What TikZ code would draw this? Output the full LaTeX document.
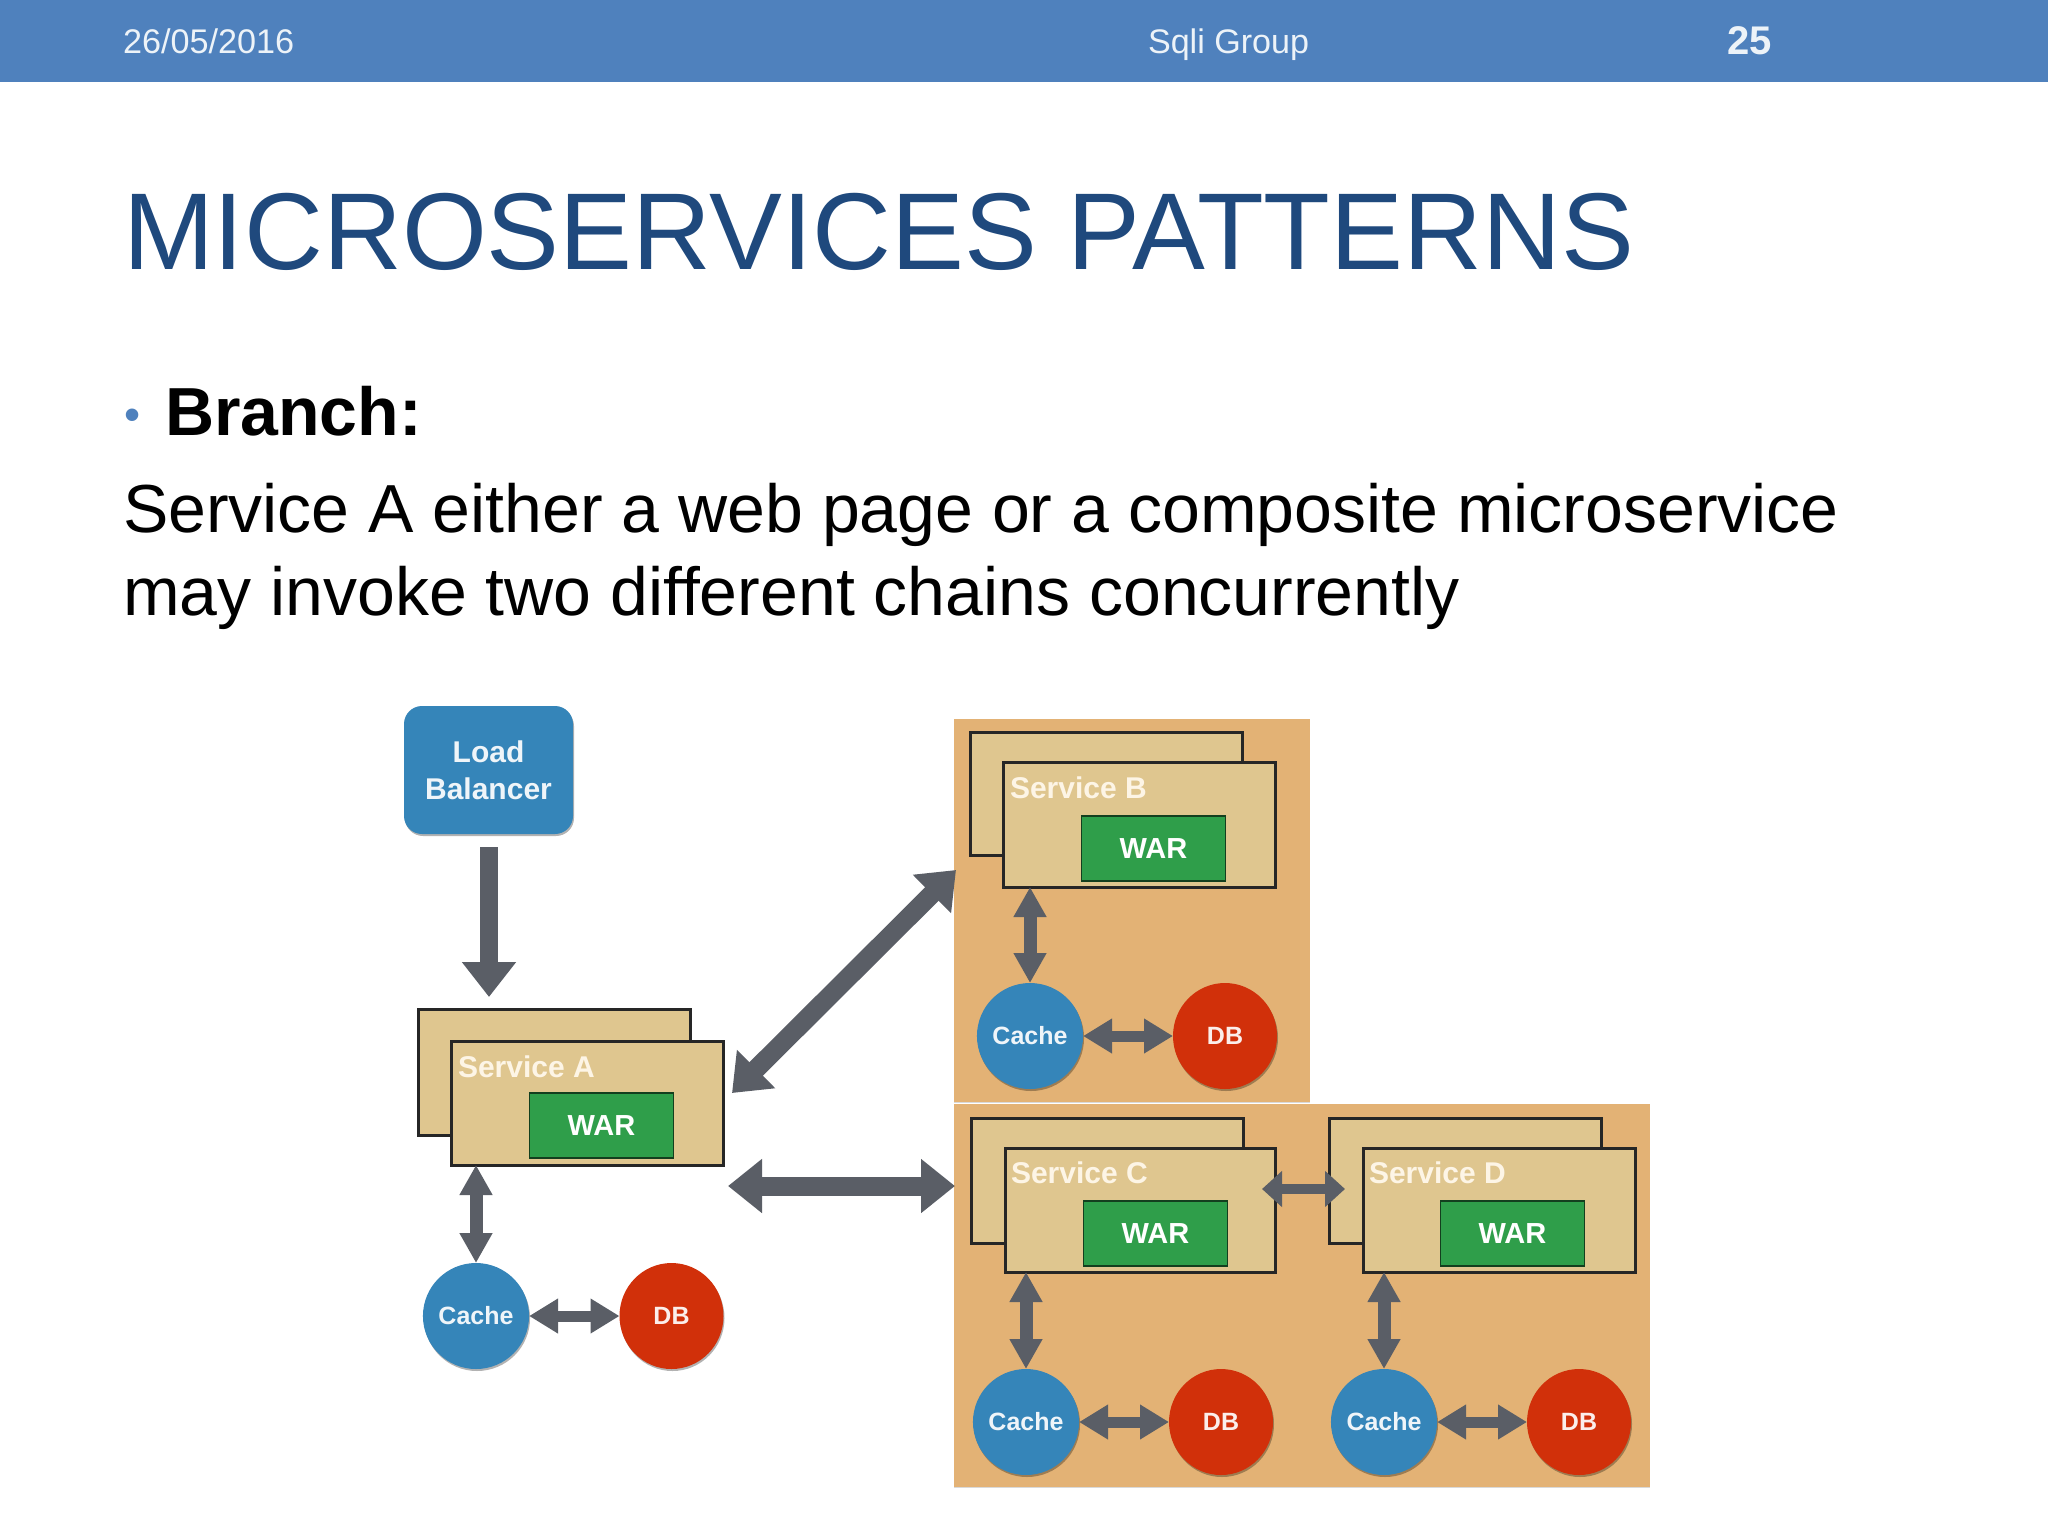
\documentclass[tikz,border=0pt]{standalone}
\usepackage{fontspec}
\setmainfont{Liberation Sans}
\usetikzlibrary{arrows.meta,shapes.geometric,shadows}
\definecolor{hdr}{HTML}{4F81BD}
\definecolor{ttl}{HTML}{1F497D}
\definecolor{panel}{HTML}{E3B275}
\definecolor{tan}{HTML}{DFC68F}
\definecolor{warg}{HTML}{2F9E4A}
\definecolor{blu}{HTML}{3585B9}
\definecolor{rd}{HTML}{D1300A}
\definecolor{gry}{HTML}{5A5E66}
\definecolor{lbl}{HTML}{FDF5E6}
\newcommand{\fs}[1]{\fontsize{#1}{#1}\selectfont}
\tikzset{
  x=0.5pt,y=-0.5pt,
  soft/.style={drop shadow={shadow xshift=0.5pt,shadow yshift=-1pt,opacity=.3,fill=black}},
  txt/.style={inner sep=0pt,outer sep=0pt,anchor=base west},
  panelbox/.style={rectangle,fill=panel,inner sep=0pt,outer sep=0pt,drop shadow={shadow xshift=0pt,shadow yshift=-0.7pt,opacity=.15,fill=black}},
  svcbox/.style={rectangle,fill=tan,draw=black!85,line width=1.5pt,inner sep=0pt,outer sep=0pt,soft},
  war/.style={rectangle,fill=warg,draw=black!60!warg,line width=0.7pt,inner sep=0pt,outer sep=0pt,text=white,font=\bfseries\fs{14.5},minimum width=72pt,minimum height=32.5pt},
  svclabel/.style={inner sep=0pt,outer sep=0pt,anchor=west,text=lbl,font=\bfseries\fs{15}},
  cachen/.style={ellipse,fill=blu,inner sep=0pt,outer sep=0pt,minimum width=52pt,minimum height=53pt,text=white!92!blu,font=\bfseries\fs{12.5},soft},
  dbn/.style={ellipse,fill=rd,inner sep=0pt,outer sep=0pt,minimum width=52pt,minimum height=53pt,text=white!92!rd,font=\bfseries\fs{12.5},soft},
  lbn/.style={rectangle,rounded corners=9pt,fill=blu,inner sep=0pt,outer sep=0pt,minimum width=84.5pt,minimum height=64pt,text=white!92!blu,font=\bfseries\fs{15},align=center,soft},
  big/.style={draw=gry,line width=9.5pt,{Triangle[length=17pt,width=26pt]}-{Triangle[length=17pt,width=26pt]}},
  down/.style={draw=gry,line width=9pt,-{Triangle[length=17.5pt,width=26pt]}},
  vert/.style={draw=gry,line width=6.5pt,{Triangle[length=15pt,width=15.5pt]}-{Triangle[length=15pt,width=15.5pt]}},
  horz/.style={draw=gry,line width=5.5pt,{Triangle[length=14.5pt,width=16.5pt]}-{Triangle[length=14.5pt,width=16.5pt]}},
  link/.style={draw=gry,line width=5pt,{Triangle[length=10pt,width=17.5pt]}-{Triangle[length=10pt,width=17.5pt]}},
}
\begin{document}
\begin{tikzpicture}
\useasboundingbox (0,0) rectangle (2048,1536);
\fill[white] (0,0) rectangle (2048,1536);
\node[rectangle,fill=hdr,inner sep=0pt,outer sep=0pt,minimum width=1024pt,minimum height=41pt] (bar) at (1024,41) {};
\node[txt,text=white!90!hdr,font=\fs{17.1}] (date) at (123,54) {26/05/2016};
\node[txt,text=white!90!hdr,font=\fs{17.05}] (grp) at (1148,54) {Sqli Group};
\node[txt,text=white!90!hdr,font=\bfseries\fs{20}] (num) at (1727,55) {25};
\node[txt,text=ttl,font=\fs{54.6}] (title) at (123,269) {MICROSERVICES PATTERNS};
\node[txt,text=hdr,font=\fs{23}] (bul) at (124,430) {•};
\node[txt,font=\bfseries\fs{34}] (branch) at (165,435) {Branch:};
\node[txt,font=\fs{34}] (l1) at (123,532) {Service A either a web page or a composite microservice};
\node[txt,font=\fs{34}] (l2) at (123,615) {may invoke two different chains concurrently};
% panels
\node[panelbox,minimum width=178pt,minimum height=191.5pt] (panelB) at (1132,910.5) {};
\node[panelbox,minimum width=348pt,minimum height=191.5pt] (panelCD) at (1302,1295.5) {};
% load balancer
\node[lbn] (lb) at (488.5,770) {Load\\[3.5pt]Balancer};
% service A
\node[svcbox,minimum width=136pt,minimum height=63pt] (backA) at (554,1072) {};
\node[svcbox,minimum width=136pt,minimum height=62pt] (frontA) at (587,1103) {};
\node[svclabel] (labA) at (458,1067) {Service A};
\node[war] (warA) at (601.5,1125.5) {WAR};
\node[cachen] (cacheA) at (476,1316) {Cache};
\node[dbn] (dbA) at (671.5,1316) {DB};
% service B
\node[svcbox,minimum width=136pt,minimum height=61.5pt] (backB) at (1106,793.5) {};
\node[svcbox,minimum width=136pt,minimum height=62.5pt] (frontB) at (1139,824.5) {};
\node[svclabel] (labB) at (1010,788) {Service B};
\node[war] (warB) at (1153.5,848.5) {WAR};
\node[cachen] (cacheB) at (1030,1036) {Cache};
\node[dbn] (dbB) at (1225,1036) {DB};
% service C
\node[svcbox,minimum width=136pt,minimum height=62.5pt] (backC) at (1107.5,1180.5) {};
\node[svcbox,minimum width=135pt,minimum height=62pt] (frontC) at (1140.5,1210) {};
\node[svclabel] (labC) at (1011,1173) {Service C};
\node[war] (warC) at (1155.5,1233.5) {WAR};
\node[cachen] (cacheC) at (1026,1422) {Cache};
\node[dbn] (dbC) at (1221,1422) {DB};
% service D
\node[svcbox,minimum width=136pt,minimum height=62.5pt] (backD) at (1465.5,1180.5) {};
\node[svcbox,minimum width=136pt,minimum height=62pt] (frontD) at (1499,1210) {};
\node[svclabel] (labD) at (1369,1173) {Service D};
\node[war] (warD) at (1512.5,1233.5) {WAR};
\node[cachen] (cacheD) at (1384,1422) {Cache};
\node[dbn] (dbD) at (1579,1422) {DB};
% free ends
\coordinate (lbEnd) at (489,847);
\coordinate (aTip) at (489,997);
\coordinate (diagA) at (732,1093);
\coordinate (diagB) at (956,870);
\coordinate (horA) at (728,1186);
\coordinate (horC) at (955,1186);
\coordinate (linkC) at (1262,1189);
\coordinate (linkD) at (1345,1189);
% connectors
\draw[down] (lbEnd) -- (aTip);
\draw[big] (diagA) -- (diagB);
\draw[big] (horA) -- (horC);
\draw[vert] (cacheA |- frontA.south) -- (cacheA);
\draw[vert] (cacheB |- frontB.south) -- (cacheB);
\draw[vert] (cacheC |- frontC.south) -- (cacheC);
\draw[vert] (cacheD |- frontD.south) -- (cacheD);
\draw[horz] (cacheA) -- (dbA);
\draw[horz] (cacheB) -- (dbB);
\draw[horz] (cacheC) -- (dbC);
\draw[horz] (cacheD) -- (dbD);
\draw[link] (linkC) -- (linkD);
\end{tikzpicture}
\end{document}
